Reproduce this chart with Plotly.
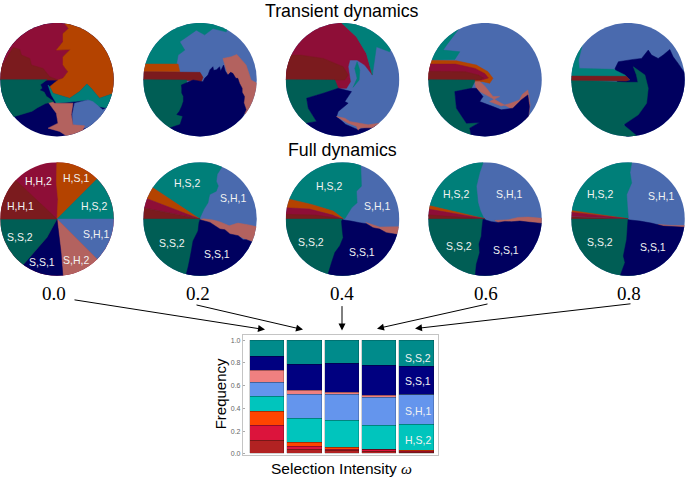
import math
import plotly.graph_objects as go

W, H = 685, 480
DISC_RADIUS = 171  # units of the region outlines below (offsets from disc centre, y down)

COLORS = {
    "crimson": "#8e0e37", "orange": "#b44300", "darkred": "#7b1b1e", "teal": "#007f79",
    "green": "#005e55", "navy": "#00005f", "pink": "#b3625f", "blue": "#4a6aae",
}

ALL = [(-300, -300), (300, -300), (300, 300), (-300, 300)]

T0 = [
    ("navy", ALL),
    ("crimson", [(23, -200), (23, -169), (35, -154), (18, -139), (18, -114), (-2, -89), (40, -91), (18, -69), (18, -44), (33, -24), (18, -4), (3, 1), (-200, 0), (-200, -200)]),
    ("orange", [(23, -200), (23, -169), (35, -154), (18, -139), (18, -114), (-2, -89), (40, -91), (18, -69), (18, -44), (33, -24), (18, -4), (3, 1), (-22, 21), (-12, 41), (38, 56), (68, 36), (90, 13), (103, 26), (128, 56), (200, 31), (200, -200)]),
    ("darkred", [(-200, -60), (-162, -49), (-132, -97), (-112, -91), (-107, -74), (-82, -64), (-77, -44), (-42, -34), (-22, -9), (3, 1), (-200, 0)]),
    ("teal", [(-27, 16), (-22, 21), (-12, 41), (38, 56), (68, 36), (90, 13), (103, 26), (128, 56), (200, 31), (200, 60), (150, 85), (120, 80), (93, 61), (53, 66), (-2, 71), (-17, 46)]),
    ("blue", [(46, 106), (53, 71), (93, 61), (108, 66), (138, 91), (200, 60), (200, 110), (83, 146), (48, 136)]),
    ("pink", [(-42, 46), (-22, 61), (-7, 71), (48, 71), (43, 106), (48, 136), (83, 139), (60, 200), (28, 169), (8, 156), (-27, 146), (3, 131), (-2, 101), (-17, 81)]),
    ("green", [(-200, 0), (-30, 0), (-50, 15), (-40, 35), (-32, 50), (-15, 62), (-10, 66), (-35, 72), (-60, 85), (-75, 95), (-125, 110), (-200, 130)]),
    ("navy", [(-50, 31), (-32, 16), (-38, 36)]),
]
T1 = [
    ("blue", ALL),
    ("teal", [(-200, -47), (-71, -44), (-66, -74), (-46, -89), (-61, -114), (-11, -149), (14, -135), (39, -154), (79, -144), (95, -200), (-200, -200)]),
    ("orange", [(-200, -47), (-66, -47), (-61, -24), (-200, -24)]),
    ("darkred", [(-200, -24), (0, -22), (9, -7), (4, 6), (-11, 3), (-200, 0)]),
    ("pink", [(69, -64), (94, -69), (111, -76), (139, -44), (154, 1), (200, 26), (137, 111), (119, 11), (84, -14)]),
    ("green", [(-200, 0), (-40, 1), (-40, 100), (-40, 150), (-100, 200), (-200, 200)]),
    ("navy", [(-56, 16), (-21, 1), (9, 6), (14, -4), (24, -14), (30, -30), (39, -39), (41, -28), (50, -30), (59, -39), (62, -26), (71, -44), (76, -26), (84, -14), (92, -22), (99, -19), (108, -4), (114, -4), (119, 11), (127, 26), (127, 38), (134, 51), (132, 70), (139, 91), (129, 111), (100, 200), (-100, 200), (-90, 145), (-60, 135), (-52, 110), (-70, 105), (-62, 95), (-55, 80), (-50, 65), (-50, 50), (-55, 40), (-55, 26)]),
]
T2 = [
    ("blue", ALL),
    ("crimson", [(-3, -200), (-3, -171), (42, -129), (72, -79), (90, -14), (67, -44), (44, -59), (22, -59), (17, -39), (24, 6), (12, 26), (-18, 26), (-23, 1), (-200, 0), (-200, -200)]),
    ("teal", [(-3, -200), (-3, -171), (42, -129), (72, -79), (90, -14), (95, -49), (102, -99), (142, -84), (150, -105), (100, -200)]),
    ("teal", [(44, -54), (37, -34), (44, -4), (32, 23), (50, 1), (52, -29)]),
    ("darkred", [(-200, -74), (-128, -74), (-58, -64), (2, -39), (17, -14), (7, 1), (-200, 0)]),
    ("green", [(-200, 0), (-23, 1), (-13, 26), (-58, 41), (-108, 56), (-103, 86), (-78, 126), (-108, 131), (-130, 200), (-200, 200)]),
    ("navy", [(27, 36), (7, 66), (17, 71), (-13, 96), (-18, 111), (10, 135), (45, 150), (110, 136), (140, 200), (-130, 200), (-108, 131), (-78, 126), (-103, 86), (-108, 56), (-58, 41), (-13, 26)]),
    ("pink", [(-18, 111), (7, 116), (22, 126), (52, 131), (77, 136), (112, 131), (95, 145), (55, 145), (47, 152), (42, 140), (17, 131)]),
]
T3 = [
    ("blue", ALL),
    ("teal", [(-70, -165), (-116, -104), (-126, -89), (-76, -84), (-91, -61), (-200, -59), (-200, -200), (-50, -200)]),
    ("orange", [(-200, -59), (-86, -57), (-26, -44), (9, -24), (24, -4), (14, 11), (-6, 6), (-200, 0)]),
    ("crimson", [(-200, -47), (-90, -47), (-30, -34), (0, -18), (10, -5), (-10, 1), (-200, 0)]),
    ("darkred", [(-200, -26), (-60, -24), (-20, -14), (-5, -5), (-15, 1), (-200, 0)]),
    ("pink", [(-31, 6), (-15, 6), (0, 20), (24, 51), (44, 51), (14, 66), (49, 79), (75, 72), (104, 61), (112, 45), (129, 31), (136, 76), (129, 126), (84, 90), (-26, 30)]),
    ("green", [(-200, 0), (-31, 1), (-31, 6), (-41, 26), (-91, 36), (-86, 86), (-70, 110), (-56, 131), (-16, 129), (-46, 146), (-41, 170), (-50, 200), (-200, 200)]),
    ("navy", [(-41, 26), (-26, 26), (-6, 51), (-16, 66), (24, 81), (49, 91), (84, 86), (100, 70), (109, 61), (129, 46), (134, 81), (129, 126), (100, 200), (-50, 200), (-41, 170), (-46, 146), (-16, 129), (-56, 131), (-70, 110), (-86, 86), (-91, 36)]),
]
T4 = [
    ("blue", ALL),
    ("navy", [(-39, -34), (-29, -54), (16, -61), (41, -64), (61, -89), (71, -74), (91, -64), (106, -74), (126, -91), (136, -69), (151, -49), (168, -24), (200, -24), (200, 200), (0, 200)]),
    ("teal", [(-130, -120), (-139, -99), (-149, -59), (-147, -34), (-44, -31), (-9, -14), (6, 1), (-200, 10), (-200, -120)]),
    ("green", [(-200, 1), (-4, 8), (30, 8), (25, -15), (16, -39), (51, -14), (61, 26), (56, 71), (31, 106), (-14, 136), (11, 156), (26, 169), (10, 200), (-200, 200)]),
    ("darkred", [(-200, -11), (-5, -10), (5, 0), (-5, 4), (-200, 1)]),
]

F0 = [
    ("crimson", ALL),
    ("orange", [(0, 0), (3, -60), (-2, -110), (0, -200), (140, -140)]),
    ("teal", [(0, 0), (140, -140), (300, -100), (300, 0)]),
    ("blue", [(0, 0), (300, 0), (300, 130), (135, 135), (60, 60)]),
    ("pink", [(0, 0), (135, 135), (60, 200), (20, 200), (12, 100)]),
    ("navy", [(0, 0), (12, 100), (20, 200), (-130, 170), (-30, 55)]),
    ("green", [(0, 0), (-30, 55), (-130, 170), (-300, 100), (-300, 0)]),
    ("darkred", [(0, 0), (-300, 0), (-300, -100), (-125, -118)]),
]
F1 = [
    ("blue", ALL),
    ("teal", [(0, 0), (-200, -133), (-200, -200), (75, -200), (64, -154), (52, -135), (49, -114), (55, -100), (49, -84), (29, -74), (24, -49), (12, -30), (0, -4)]),
    ("orange", [(0, 0), (-200, -133), (-200, -77)]),
    ("crimson", [(0, 0), (-200, -77), (-200, -40)]),
    ("darkred", [(0, 0), (-200, -40), (-200, 0)]),
    ("green", [(-200, 0), (0, 0), (40, 60), (40, 200), (-200, 200)]),
    ("pink", [(10, -1), (40, 3), (59, 8), (88, 20), (114, 12), (144, 17), (175, 24), (200, 40), (200, 80), (140, 62), (115, 50), (90, 45), (60, 30), (30, 10), (0, 2)]),
    ("navy", [(0, 2), (30, 10), (60, 30), (75, 32), (90, 45), (115, 50), (130, 62), (140, 62), (155, 68), (200, 80), (200, 200), (-50, 200), (-41, 164), (-36, 145), (-31, 121), (-26, 95), (-21, 66), (-6, 36), (-3, 11)]),
]
F2 = [
    ("blue", ALL),
    ("teal", [(55, -200), (55, -164), (57, -99), (42, -84), (44, -49), (28, -35), (7, -1), (2, -2), (-28, -24), (-93, -44), (-160, -60), (-200, -65), (-200, -200)]),
    ("orange", [(2, -2), (-28, -24), (-93, -44), (-160, -60), (-200, -65), (-200, -36), (-100, -30), (-30, -12), (0, 0)]),
    ("crimson", [(-200, -36), (-100, -30), (-30, -12), (0, 0), (-200, -15)]),
    ("darkred", [(-200, -15), (-80, -12), (0, 0), (-200, 0)]),
    ("green", [(-200, 0), (0, 0), (40, 60), (40, 200), (-200, 200)]),
    ("pink", [(70, 10), (112, 24), (167, 23), (200, 30), (200, 50), (162, 46), (132, 41), (92, 26)]),
    ("navy", [(0, 2), (26, 6), (52, 11), (72, 14), (92, 26), (112, 30), (132, 41), (162, 46), (200, 50), (200, 200), (-50, 200), (-43, 164), (-33, 131), (-23, 101), (-8, 80), (2, 56), (-1, 30), (-3, 6)]),
]
F3 = [
    ("blue", ALL),
    ("teal", [(-6, -200), (-6, -169), (-16, -140), (-26, -99), (-21, -49), (-14, -25), (-4, -4), (0, -1), (-200, -48), (-200, -200)]),
    ("orange", [(0, -1), (-200, -48), (-200, -35)]),
    ("crimson", [(0, -1), (-200, -35), (-200, -10)]),
    ("darkred", [(0, 0), (-200, -15), (-200, 0)]),
    ("green", [(-200, 0), (0, 0), (40, 60), (40, 200), (-200, 200)]),
    ("pink", [(30, 4), (70, 2), (100, -5), (130, -6), (200, 0), (200, 16), (130, 9), (80, 8), (40, 10)]),
    ("navy", [(0, 2), (20, 8), (40, 10), (60, 7), (80, 8), (105, 6), (130, 9), (200, 16), (200, 200), (-35, 200), (-29, 166), (-26, 136), (-16, 101), (-18, 75), (-11, 51), (-9, 25), (-6, 1)]),
]
F4 = [
    ("blue", ALL),
    ("teal", [(11, -200), (11, -169), (6, -140), (11, -109), (-4, -74), (-2, -40), (1, -4), (0, -1), (-200, -30), (-200, -200)]),
    ("orange", [(0, -1), (-200, -30), (-200, -24)]),
    ("crimson", [(0, -1), (-200, -24), (-200, -10)]),
    ("darkred", [(0, 0), (-200, -8), (-200, 0)]),
    ("green", [(-200, 0), (0, 0), (40, 60), (40, 200), (-200, 200)]),
    ("pink", [(90, 16), (130, 19), (200, 20), (200, 26), (106, 22)]),
    ("navy", [(0, 2), (36, 6), (70, 12), (106, 21), (161, 24), (200, 25), (200, 200), (-26, 200), (-22, 166), (-9, 131), (-14, 111), (-4, 61), (-2, 30)]),
]

DISCS = [
    (T0, 57, 80), (T1, 200, 80), (T2, 342.5, 80), (T3, 485, 80), (T4, 628, 80),
    (F0, 57, 220), (F1, 200, 220), (F2, 342.5, 220), (F3, 485, 220), (F4, 628, 220),
]

DISC_LABELS = [
    ("H,H,2", 38, 182), ("H,S,1", 76, 179), ("H,H,1", 20, 207), ("H,S,2", 94, 207),
    ("S,H,1", 96, 235), ("S,S,2", 20, 238), ("S,H,2", 76, 261), ("S,S,1", 42, 263),
    ("H,S,2", 187, 184), ("S,H,1", 233, 199), ("S,S,2", 172, 244), ("S,S,1", 217, 255),
    ("H,S,2", 329, 187), ("S,H,1", 377, 207), ("S,S,2", 311, 243), ("S,S,1", 362, 253),
    ("H,S,2", 456, 195), ("S,H,1", 509, 195), ("S,S,2", 459, 247), ("S,S,1", 506, 251),
    ("H,S,2", 600, 195), ("S,H,1", 661, 197), ("S,S,2", 600, 243), ("S,S,1", 653, 248),
]

OMEGA_LABELS = [("0.0", 54, 73, 301, 265, 331), ("0.2", 198, 195, 306, 303, 331),
                ("0.4", 342, 342, 306, 342, 332), ("0.6", 486, 489, 305, 377, 330),
                ("0.8", 629, 632, 305, 415, 330)]

BAR_POSITIONS = [0, 1, 2, 3, 4]
BAR_SERIES = [
    ("#b22222", [0.12, 0.035, 0.025, 0.02, 0.01]),
    ("#dc143c", [0.13, 0.03, 0.015, 0.015, 0.01]),
    ("#ff4500", [0.125, 0.035, 0.015, 0.005, 0.005]),
    ("#00c5bd", [0.125, 0.21, 0.24, 0.205, 0.23]),
    ("#6495ed", [0.125, 0.21, 0.23, 0.25, 0.265]),
    ("#f08080", [0.105, 0.04, 0.015, 0.015, 0.005]),
    ("#000080", [0.13, 0.23, 0.255, 0.265, 0.245]),
    ("#008b8b", [0.14, 0.21, 0.205, 0.225, 0.23]),
]
BAR_LABELS = [("S,S,2", 359), ("S,S,1", 383), ("S,H,1", 413), ("H,S,2", 442)]
Y_TICKS = [0.0, 0.2, 0.4, 0.6, 0.8, 1.0]

fx = lambda px: px / W
fy = lambda py: 1 - py / H

fig = go.Figure()
layout = {}
for i, (regions, cx, cy) in enumerate(DISCS, start=1):
    name = "polar" if i == 1 else f"polar{i}"
    layout[name] = dict(
        domain=dict(x=[fx(cx - 57), fx(cx + 57)], y=[fy(cy + 57), fy(cy - 57)]),
        bgcolor="rgba(0,0,0,0)",
        radialaxis=dict(visible=False, range=[0, DISC_RADIUS]),
        angularaxis=dict(visible=False),
    )
    for color, outline in regions:
        pts = outline + outline[:1]
        fig.add_trace(go.Scatterpolar(
            r=[math.hypot(x, y) for x, y in pts],
            theta=[math.degrees(math.atan2(-y, x)) for x, y in pts],
            mode="lines", fill="toself", fillcolor=COLORS[color],
            line=dict(color=COLORS[color], width=0.5),
            subplot=name, showlegend=False, hoverinfo="skip",
        ))

for color, vals in BAR_SERIES:
    fig.add_trace(go.Bar(x=BAR_POSITIONS, y=vals, width=0.92, marker=dict(
        color=color, line=dict(color="rgba(0,0,0,0.25)", width=0.7)),
        showlegend=False, hoverinfo="skip"))

notes = []
def text(s, px, py, size, color="black", family="Liberation Sans", **kw):
    notes.append(dict(text=s, x=fx(px), y=fy(py), xref="paper", yref="paper", showarrow=False,
                      font=dict(size=size, color=color, family=family),
                      xanchor="center", yanchor="middle", **kw))

text("Transient dynamics", 342, 11, 17.8)
text("Full dynamics", 342, 151, 17.8)
for s, px, py in DISC_LABELS:
    text(s, px, py, 10.5, "#f2f2f2")
for s, py in BAR_LABELS:
    text(s, 418, py, 10.5, "#f2f2f2")
for s, px, x0, y0, x1, y1 in OMEGA_LABELS:
    text(s, px, 295, 19, family="Liberation Serif")
    notes.append(dict(x=fx(x1), y=fy(y1), xref="paper", yref="paper", ax=x0 - x1, ay=y0 - y1,
                      axref="pixel", ayref="pixel", text="", showarrow=True,
                      arrowhead=2, arrowsize=1.4, arrowwidth=1, arrowcolor="black"))
text("Frequency", 220, 396, 15, textangle=-90)
text("Selection Intensity <i><span style='font-family:Liberation Serif'>ω</span></i>", 341, 470, 15.5)

layout.update(
    width=W, height=H, autosize=False,
    margin=dict(l=0, r=0, t=0, b=0), paper_bgcolor="white", plot_bgcolor="white",
    barmode="stack", bargap=0,
    xaxis=dict(domain=[fx(243), fx(438)], range=[-0.646, 4.58], showticklabels=False, ticks="",
               showgrid=False, zeroline=False, showline=True, mirror=True, linecolor="#c4c4c4", linewidth=1.2),
    yaxis=dict(domain=[fy(457), fy(336)], range=[-0.011, 1.05], tickvals=Y_TICKS,
               ticktext=[f"{v:.1f}" for v in Y_TICKS], ticks="inside", ticklen=2, tickcolor="#aaa",
               tickfont=dict(size=7, color="#666", family="Liberation Sans"),
               showgrid=False, zeroline=False, showline=True, mirror=True, linecolor="#c4c4c4", linewidth=1.2),
    annotations=notes,
)
fig.update_layout(**layout)
fig.write_html("out.html", config={"displayModeBar": False},
               post_script="document.body.style.margin='0';document.body.style.overflow='hidden';")
